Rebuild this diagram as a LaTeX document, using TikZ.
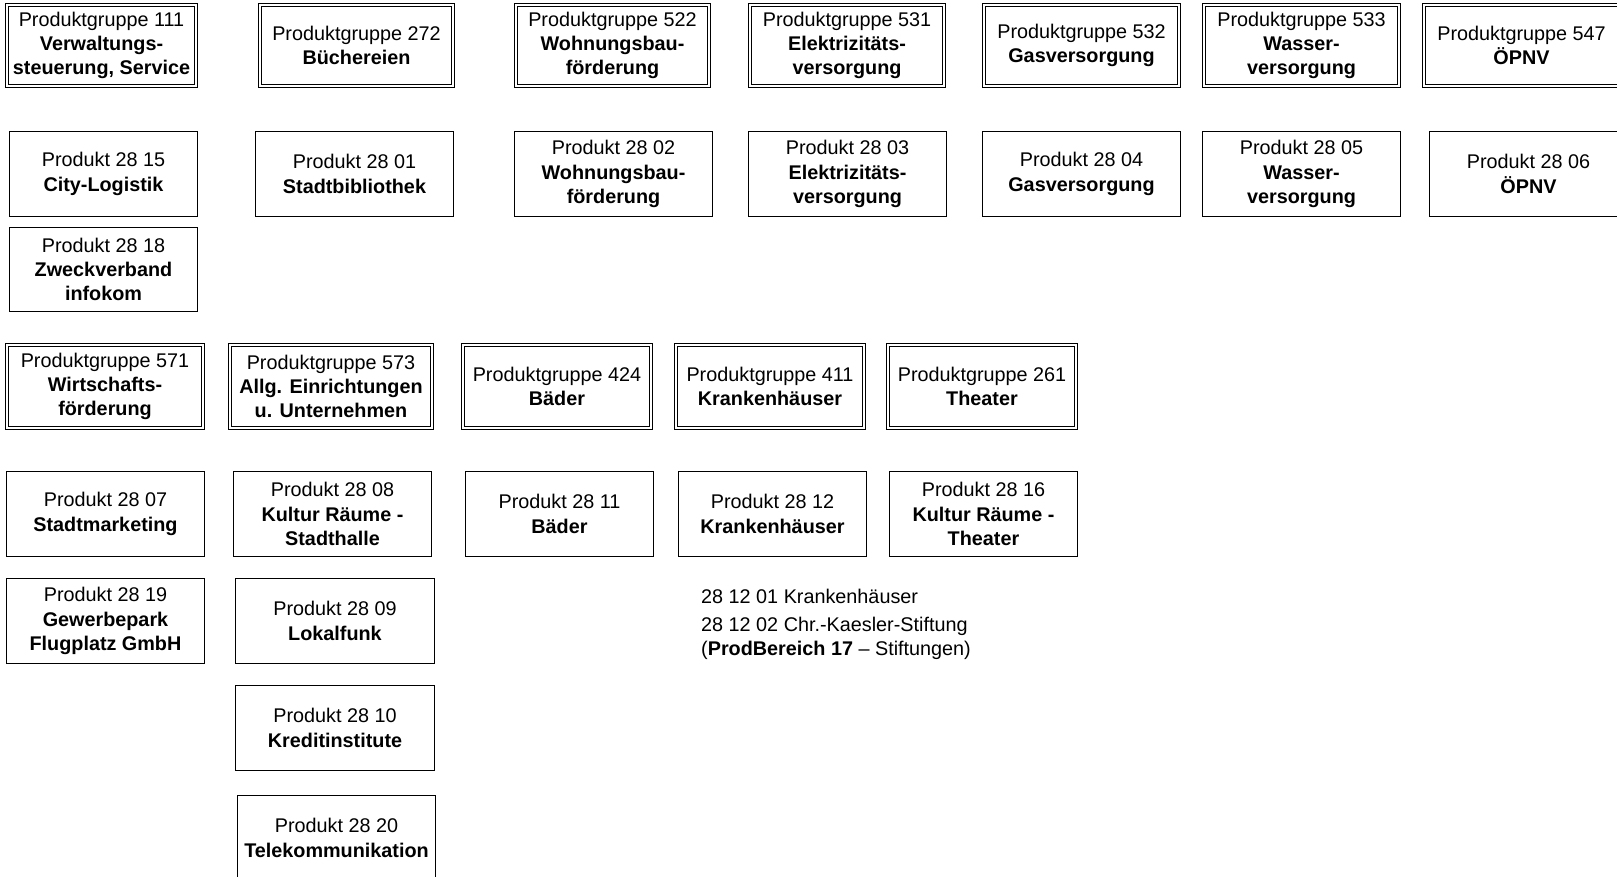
\documentclass[tikz,border=0pt]{standalone}
\usepackage{fontspec}
\setmainfont{Liberation Sans}
\begin{document}
\begin{tikzpicture}[x=1pt,y=-1pt,
  every node/.style={font=\fontsize{19.8}{24.2}\selectfont, align=center, inner sep=0pt},
  pg/.style={draw=black, line width=1pt, double=white, double distance=2pt},
  pr/.style={draw=black, line width=1.2pt},
  sz/.style 2 args={minimum width=#1pt, minimum height=#2pt},
  txt/.style={anchor=west, align=left}]
\useasboundingbox (0,0) rectangle (1617,876);
\clip (0,0) rectangle (1617,876);
% Row 1
\node[pg, sz={189}{81}] (pg111) at (101.5,45.5) {Produktgruppe 111\\\textbf{Verwaltungs-}\\\textbf{steuerung, Service}};
\node[pg, sz={193}{81}] (pg272) at (356.5,45.5) {Produktgruppe 272\\\textbf{Büchereien}};
\node[pg, sz={193}{81}] (pg522) at (612.5,45.5) {Produktgruppe 522\\\textbf{Wohnungsbau-}\\\textbf{förderung}};
\node[pg, sz={194}{81}] (pg531) at (847,45.5) {Produktgruppe 531\\\textbf{Elektrizitäts-}\\\textbf{versorgung}};
\node[pg, sz={195}{81}] (pg532) at (1081.5,45.5) {Produktgruppe 532\\\textbf{Gasversorgung}};
\node[pg, sz={195}{81}] (pg533) at (1301.5,45.5) {Produktgruppe 533\\\textbf{Wasser-}\\\textbf{versorgung}};
\node[pg, sz={195}{81}] (pg547) at (1521.5,45.5) {Produktgruppe 547\\\textbf{ÖPNV}};
% Row 2
\node[pr, sz={188}{85}] (p2815) at (103.5,174) {Produkt 28 15\\\textbf{City-Logistik}};
\node[pr, sz={198}{85}] (p2801) at (354.5,174) {Produkt 28 01\\\textbf{Stadtbibliothek}};
\node[pr, sz={198}{85}] (p2802) at (613.5,174) {Produkt 28 02\\\textbf{Wohnungsbau-}\\\textbf{förderung}};
\node[pr, sz={198}{85}] (p2803) at (847.5,174) {Produkt 28 03\\\textbf{Elektrizitäts-}\\\textbf{versorgung}};
\node[pr, sz={198}{85}] (p2804) at (1081.5,174) {Produkt 28 04\\\textbf{Gasversorgung}};
\node[pr, sz={198}{85}] (p2805) at (1301.5,174) {Produkt 28 05\\\textbf{Wasser-}\\\textbf{versorgung}};
\node[pr, sz={198}{85}] (p2806) at (1528.5,174) {Produkt 28 06\\\textbf{ÖPNV}};
% Row 3
\node[pr, sz={188}{84}] (p2818) at (103.5,269.5) {Produkt 28 18\\\textbf{Zweckverband}\\\textbf{infokom}};
% Row 4
\node[pg, sz={196}{83}] (pg571) at (105,386.5) {Produktgruppe 571\\\textbf{Wirtschafts-}\\\textbf{förderung}};
\node[pg, sz={202}{83}] (pg573) at (331,386.5) {Produktgruppe 573\\\textbf{Allg. Einrichtungen}\\\textbf{u. Unternehmen}};
\node[pg, sz={188}{83}] (pg424) at (557,386.5) {Produktgruppe 424\\\textbf{Bäder}};
\node[pg, sz={188}{83}] (pg411) at (770,386.5) {Produktgruppe 411\\\textbf{Krankenhäuser}};
\node[pg, sz={188}{83}] (pg261) at (982,386.5) {Produktgruppe 261\\\textbf{Theater}};
% Row 5
\node[pr, sz={198}{85}] (p2807) at (105.5,514) {Produkt 28 07\\\textbf{Stadtmarketing}};
\node[pr, sz={198}{85}] (p2808) at (332.5,514) {Produkt 28 08\\\textbf{Kultur Räume -}\\\textbf{Stadthalle}};
\node[pr, sz={188}{85}] (p2811) at (559.5,514) {Produkt 28 11\\\textbf{Bäder}};
\node[pr, sz={188}{85}] (p2812) at (772.5,514) {Produkt 28 12\\\textbf{Krankenhäuser}};
\node[pr, sz={188}{85}] (p2816) at (983.5,514) {Produkt 28 16\\\textbf{Kultur Räume -}\\\textbf{Theater}};
% Row 6
\node[pr, sz={198}{85}] (p2819) at (105.5,621) {Produkt 28 19\\\textbf{Gewerbepark}\\\textbf{Flugplatz GmbH}};
\node[pr, sz={199}{85}] (p2809) at (335,621) {Produkt 28 09\\\textbf{Lokalfunk}};
\node[pr, sz={199}{85}] (p2810) at (335,728) {Produkt 28 10\\\textbf{Kreditinstitute}};
\node[pr, sz={198}{85}] (p2820) at (336.5,838) {Produkt 28 20\\\textbf{Telekommunikation}};
% Text block
\node[txt] (t1) at (701,596) {28 12 01 Krankenhäuser};
\node[txt] (t2) at (701,638) {28 12 02 Chr.-Kaesler-Stiftung\\(\textbf{ProdBereich 17} – Stiftungen)};
\end{tikzpicture}
\end{document}
